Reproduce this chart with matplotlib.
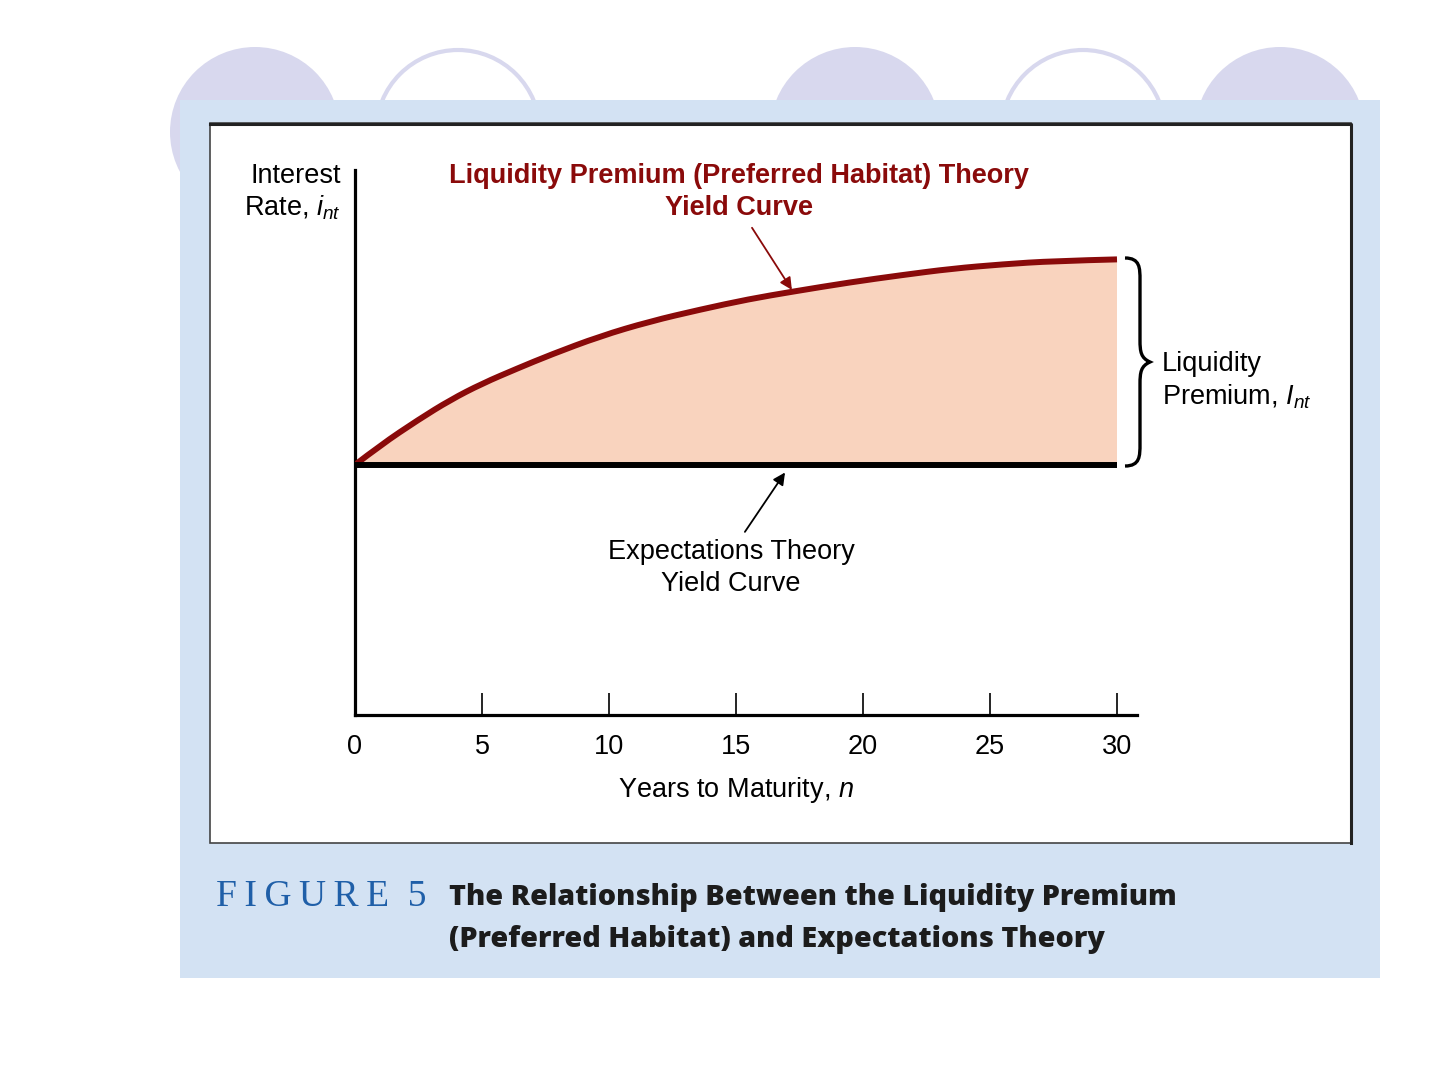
import numpy as np
import matplotlib
matplotlib.use("Agg")
import matplotlib.pyplot as plt
from matplotlib.patches import Circle, Rectangle, PathPatch
from matplotlib.path import Path

plt.rcParams['font.family'] = ['Liberation Sans', 'DejaVu Sans']
plt.rcParams['mathtext.fontset'] = 'custom'
plt.rcParams['mathtext.rm'] = 'Liberation Sans'
plt.rcParams['mathtext.it'] = 'Liberation Sans:italic'

# Data (years to maturity vs interest rate, arbitrary units)
years = [0, 1, 2.5, 3.75, 5, 6.4, 7.7, 9.65, 11.6, 13.6, 15.5, 17.25,
         19.5, 21.5, 23.5, 25.5, 27.5, 30]
liquidity_curve = [4.59, 4.95, 5.42, 5.78, 6.08, 6.36, 6.61, 6.95, 7.22, 7.44,
                   7.63, 7.77, 7.94, 8.07, 8.19, 8.27, 8.33, 8.36]
expectations_curve = [4.59] * len(years)
tick_years = [0, 5, 10, 15, 20, 25, 30]

RED = '#8a0a0a'
PEACH = '#f9d3be'
PANEL = '#d3e2f3'
LAVENDER = '#d8d8ee'
FS = 19.5

fig = plt.figure(figsize=(14.4, 10.8), dpi=100)

# background layer in pixel coordinates
bg = fig.add_axes([0, 0, 1, 1])
bg.set_xlim(0, 1440)
bg.set_ylim(1080, 0)
bg.axis('off')

for cx in [255, 855, 1280]:
    bg.add_patch(Circle((cx, 132), 85, facecolor=LAVENDER, edgecolor='none', zorder=1))
for cx in [458, 1083]:
    bg.add_patch(Circle((cx, 132), 82, facecolor='white', edgecolor=LAVENDER, lw=3, zorder=1))

bg.add_patch(Rectangle((180, 100), 1200, 878, facecolor=PANEL, edgecolor='none', zorder=2))
bg.add_patch(Rectangle((210, 123), 1141, 720, facecolor='white', edgecolor='#444444', lw=1.2, zorder=3))
bg.plot([210, 1351, 1351], [123.5, 123.5, 843], color='#222222', lw=2.2, zorder=3)

# brace for liquidity premium
brace = Path([(1125, 258), (1140, 258), (1140, 268), (1140, 280),
              (1140, 340), (1140, 352), (1141, 358), (1150, 362),
              (1141, 366), (1140, 372), (1140, 384),
              (1140, 444), (1140, 456), (1140, 466), (1125, 466)],
             [Path.MOVETO, Path.CURVE4, Path.CURVE4, Path.CURVE4,
              Path.LINETO, Path.CURVE4, Path.CURVE4, Path.CURVE4,
              Path.CURVE4, Path.CURVE4, Path.CURVE4,
              Path.LINETO, Path.CURVE4, Path.CURVE4, Path.CURVE4])
bg.add_patch(PathPatch(brace, facecolor='none', edgecolor='black', lw=2.4, zorder=4))

bg.text(341, 176, 'Interest', ha='right', va='center', fontsize=FS, zorder=5)
bg.text(341, 208, 'Rate, $i_{nt}$', ha='right', va='center', fontsize=FS, zorder=5)
bg.text(739, 176, 'Liquidity Premium (Preferred Habitat) Theory', ha='center', va='center',
        fontsize=FS, fontweight='bold', color=RED, zorder=5)
bg.text(739, 208, 'Yield Curve', ha='center', va='center',
        fontsize=FS, fontweight='bold', color=RED, zorder=5)
bg.text(1162, 364, 'Liquidity', ha='left', va='center', fontsize=FS, zorder=5)
bg.text(1162, 397, 'Premium, $I_{nt}$', ha='left', va='center', fontsize=FS, zorder=5)
bg.text(731, 552, 'Expectations Theory', ha='center', va='center', fontsize=FS, zorder=5)
bg.text(731, 584, 'Yield Curve', ha='center', va='center', fontsize=FS, zorder=5)
bg.text(736, 790, 'Years to Maturity, $n$', ha='center', va='center', fontsize=FS, zorder=5)

bg.text(216, 897, 'F\u2009I\u2009G\u2009U\u2009R\u2009E  5', ha='left', va='center', fontsize=27,
        family='Liberation Serif', color='#1f5fa8', zorder=5)
bg.text(449, 898, 'The Relationship Between the Liquidity Premium', ha='left', va='center',
        fontsize=20.7, fontweight=800, family='Open Sans', color='#1c1c1c', zorder=5)
bg.text(449, 940, '(Preferred Habitat) and Expectations Theory', ha='left', va='center',
        fontsize=20.7, fontweight=800, family='Open Sans', color='#1c1c1c', zorder=5)

# main chart
ax = fig.add_axes([355 / 1440, 365 / 1080, 782 / 1440, 545 / 1080])
ax.patch.set_visible(False)
ax.set_xlim(0, 782 / 25.4)
ax.set_ylim(0, 10)

# smooth the read points with quadratic bezier segments
pts = list(zip(years, liquidity_curve))
verts = [pts[0]]
codes = [Path.MOVETO]
for i in range(1, len(pts) - 1):
    if i == len(pts) - 2:
        end = pts[-1]
    else:
        end = ((pts[i][0] + pts[i + 1][0]) / 2, (pts[i][1] + pts[i + 1][1]) / 2)
    verts += [pts[i], end]
    codes += [Path.CURVE3, Path.CURVE3]
curve_path = Path(verts, codes)

fill_verts = verts + [(years[-1], expectations_curve[-1]), (years[0], expectations_curve[0]), verts[0]]
fill_codes = codes + [Path.LINETO, Path.LINETO, Path.CLOSEPOLY]
ax.add_patch(PathPatch(Path(fill_verts, fill_codes), facecolor=PEACH, edgecolor='none', zorder=1))
ax.add_patch(PathPatch(curve_path, facecolor='none', edgecolor=RED, lw=4.3, capstyle='butt', zorder=3))
ax.plot(years, expectations_curve, color='black', lw=4.3, solid_capstyle='butt', zorder=3)

ax.annotate('', xy=(17.2, 7.8), xytext=(15.63, 8.94),
            arrowprops=dict(arrowstyle='-|>', color=RED, lw=1.3, mutation_scale=18, shrinkA=0, shrinkB=0))
ax.annotate('', xy=(16.93, 4.45), xytext=(15.35, 3.36),
            arrowprops=dict(arrowstyle='-|>', color='black', lw=1.3, mutation_scale=18, shrinkA=0, shrinkB=0))

for s in ['top', 'right']:
    ax.spines[s].set_visible(False)
ax.spines['left'].set_linewidth(2.3)
ax.spines['bottom'].set_linewidth(2.3)
ax.set_yticks([])
ax.set_xticks(tick_years)
ax.set_xticklabels([str(t) for t in tick_years], fontsize=FS)
ax.tick_params(axis='x', direction='in', length=16, width=1.2, pad=14)

fig.savefig('out.png', dpi=100)
